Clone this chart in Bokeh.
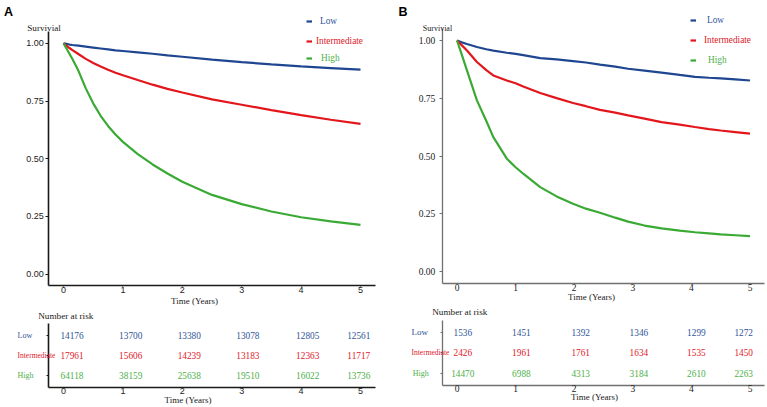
from bokeh.plotting import figure
from bokeh.models import Range1d, Label, Legend, LegendItem, FixedTicker, ColumnDataSource
from bokeh.layouts import row, column
from bokeh.embed import file_html
from bokeh.resources import INLINE
from bokeh.core.properties import value

# ---------------- data ----------------
groups = ["Low", "Intermediate", "High"]
years = [0, 1, 2, 3, 4, 5]
year_labels = ["0", "1", "2", "3", "4", "5"]
surv_ticks = [0.0, 0.25, 0.5, 0.75, 1.0]
surv_tick_labels = ["0.00", "0.25", "0.50", "0.75", "1.00"]

time_A = [0, 0.05, 0.1, 0.15, 0.25, 0.375, 0.5, 0.625, 0.75, 0.875, 1, 1.25, 1.5, 1.75, 2, 2.5, 3, 3.5, 4, 4.5, 5]
surv_A_low = [1, 0.998, 0.995, 0.993, 0.990, 0.986, 0.982, 0.978, 0.974, 0.970, 0.967, 0.961, 0.955, 0.948,
              0.942, 0.930, 0.919, 0.909, 0.900, 0.893, 0.886]
surv_A_int = [1, 0.990, 0.980, 0.971, 0.954, 0.933, 0.915, 0.900, 0.886, 0.873, 0.862, 0.841, 0.821, 0.803,
              0.787, 0.757, 0.734, 0.711, 0.689, 0.669, 0.651]
surv_A_high = [1, 0.978, 0.955, 0.932, 0.882, 0.805, 0.740, 0.686, 0.642, 0.605, 0.573, 0.520, 0.475, 0.436,
               0.400, 0.343, 0.303, 0.271, 0.246, 0.228, 0.213]

time_B = [0, 0.08, 0.17, 0.34, 0.5, 0.62, 0.85, 1.0, 1.13, 1.42, 1.7, 1.98, 2.2, 2.44, 2.7, 2.92,
          3.2, 3.49, 3.8, 4.06, 4.3, 4.5, 4.75, 5]
surv_B_low = [1, 0.992, 0.985, 0.972, 0.962, 0.956, 0.947, 0.942, 0.937, 0.924, 0.918, 0.911, 0.905, 0.896,
              0.887, 0.878, 0.870, 0.861, 0.851, 0.843, 0.839, 0.836, 0.832, 0.827]
surv_B_int = [1, 0.980, 0.957, 0.907, 0.872, 0.849, 0.827, 0.815, 0.801, 0.773, 0.751, 0.730, 0.716, 0.700,
              0.688, 0.676, 0.662, 0.647, 0.636, 0.626, 0.617, 0.611, 0.604, 0.597]
surv_B_high = [1, 0.940, 0.871, 0.741, 0.652, 0.582, 0.489, 0.452, 0.424, 0.366, 0.326, 0.294, 0.273, 0.255,
               0.234, 0.217, 0.200, 0.188, 0.178, 0.171, 0.166, 0.162, 0.158, 0.154]

risk_A_low = [14176, 13700, 13380, 13078, 12805, 12561]
risk_A_int = [17961, 15606, 14239, 13183, 12363, 11717]
risk_A_high = [64118, 38159, 25638, 19510, 16022, 13736]
risk_B_low = [1536, 1451, 1392, 1346, 1299, 1272]
risk_B_int = [2426, 1961, 1761, 1634, 1535, 1450]
risk_B_high = [14470, 6988, 4313, 3184, 2610, 2263]

# ---------------- styles ----------------
LINE_COL = {"Low": "#1F4690", "Intermediate": "#E3161C", "High": "#3AAA35"}
TEXT_COL = {"Low": "#2F5597", "Intermediate": "#E0202A", "High": "#4DAF4A"}
ROW_Y = {"Low": 3, "Intermediate": 2, "High": 1}
SERIF = "Liberation Serif"
SANS = "Liberation Sans"


class Canvas:
    """A figure whose frame fills its whole canvas; page box and a linear pixel mapping."""

    def __init__(self, left, top, width, height, x0_px, x_per, y0_px, y_per):
        self.left, self.top, self.w, self.h = left, top, width, height
        self.bottom = top + height
        xr = ((left - x0_px) / x_per, (left + width - x0_px) / x_per)
        yr = ((y0_px - self.bottom) / y_per, (y0_px - top) / y_per)
        p = figure(width=width, height=height, x_range=Range1d(*xr), y_range=Range1d(*yr),
                   output_backend="svg", toolbar_location=None,
                   min_border_left=0, min_border_right=0, min_border_top=0, min_border_bottom=0)
        p.outline_line_color = None
        p.xgrid.visible = False
        p.ygrid.visible = False
        p.background_fill_color = "white"
        p.border_fill_color = "white"
        self.p = p

    def label(self, px, py, text, size, color="#1a1a1a", font=SERIF, align="left", style="normal",
              ydata=None):
        kw = dict(x=px - self.left, x_units="screen", text=text, text_font=font, text_font_size=size,
                  text_color=color, text_align=align, text_baseline="middle", text_font_style=style)
        if ydata is None:
            kw.update(y=self.bottom - py, y_units="screen")
        else:
            kw.update(y=ydata, y_units="data")
        self.p.add_layout(Label(**kw))


def style_axes(p, xloc, yloc, xb, yb, tick_font, tick_size, line_col, line_w,
               xtick_out, xstand, ytick_out, ystand):
    for ax in (p.xaxis[0], p.yaxis[0]):
        ax.axis_line_color = line_col
        ax.axis_line_width = line_w
        ax.major_tick_line_color = line_col
        ax.minor_tick_line_color = None
        ax.major_tick_in = 0
        ax.major_label_text_font = tick_font
        ax.major_label_text_font_size = tick_size
        ax.major_label_text_color = "#222222"
    xa, ya = p.xaxis[0], p.yaxis[0]
    xa.fixed_location = yloc
    ya.fixed_location = xloc
    xa.bounds = xb
    ya.bounds = yb
    xa.major_tick_out = xtick_out
    xa.major_label_standoff = xstand
    ya.major_tick_out = ytick_out
    ya.major_label_standoff = ystand
    xa.ticker = FixedTicker(ticks=years)
    xa.major_label_overrides = {y: l for y, l in zip(years, year_labels)}


def surv_panel(c, letter, time, curves, xmax, tick_font, tick_size, line_col, line_w, ystand,
               letter_xy, surv_xy, surv_size, time_xy, legend_items):
    p = c.p
    style_axes(p, -0.25, -0.05, (-0.25, xmax), (-0.05, 1.05), tick_font, tick_size, line_col, line_w,
               1, 0, 3, ystand)
    p.yaxis[0].ticker = FixedTicker(ticks=surv_ticks)
    p.yaxis[0].major_label_overrides = {t: l for t, l in zip(surv_ticks, surv_tick_labels)}
    rends = {}
    for g in groups:
        rends[g] = p.line(time, curves[g], line_color=LINE_COL[g], line_width=2.2)
    c.label(letter_xy[0], letter_xy[1], letter, "12.5px", "#000000", SANS, "left", "bold")
    c.label(surv_xy[0], surv_xy[1], "Survivial", surv_size)
    c.label(time_xy[0], time_xy[1], "Time (Years)", "9px", align="center")
    for g, dash_x, cy, stand in legend_items:
        lg = Legend(items=[LegendItem(label=g, renderers=[rends[g]])],
                    location=(dash_x - c.left, c.bottom - (cy + 6)),
                    orientation="vertical", padding=0, margin=0, spacing=0,
                    glyph_width=6, glyph_height=12, label_height=12, label_standoff=stand,
                    label_text_font=SERIF, label_text_font_size="9.3px",
                    label_text_color=TEXT_COL[g], background_fill_alpha=0, border_line_alpha=0)
        p.add_layout(lg)


def risk_panel(c, risks, nudges, xmax, tick_font, tick_size, line_col, line_w,
               nar_xy, time_xy, row_x, row_sizes):
    p = c.p
    style_axes(p, -0.25, 0.4, (-0.25, xmax), (0.4, 3.6), tick_font, tick_size, line_col, line_w,
               0, 0, 2, 2)
    p.yaxis[0].ticker = FixedTicker(ticks=[1, 2, 3])
    p.yaxis[0].major_label_overrides = {1: "", 2: "", 3: ""}
    xs, ys, txt, cols, offs = [], [], [], [], []
    for g in groups:
        for yr, n, off in zip(years, risks[g], nudges):
            xs.append(yr)
            ys.append(ROW_Y[g])
            txt.append(str(n))
            cols.append(TEXT_COL[g])
            offs.append(off)
    src = ColumnDataSource(dict(x=xs, y=ys, txt=txt, tcol=cols, off=offs))
    p.text(x="x", y="y", text="txt", source=src, text_color="tcol", x_offset="off",
           text_font=value(SERIF), text_font_size=value("9.3px"),
           text_align="center", text_baseline="middle")
    c.label(nar_xy[0], nar_xy[1], "Number at risk", "9.2px")
    c.label(time_xy[0], time_xy[1], "Time (Years)", "9px", align="center")
    for g in groups:
        c.label(row_x[g], 0, g, row_sizes[g], TEXT_COL[g], SERIF, "left", ydata=ROW_Y[g])


curves_A = {"Low": surv_A_low, "Intermediate": surv_A_int, "High": surv_A_high}
curves_B = {"Low": surv_B_low, "Intermediate": surv_B_int, "High": surv_B_high}
risks_A = {"Low": risk_A_low, "Intermediate": risk_A_int, "High": risk_A_high}
risks_B = {"Low": risk_B_low, "Intermediate": risk_B_int, "High": risk_B_high}

# ---- panel A ----
a_top = Canvas(0, 0, 385, 306, 63, 59.4, 273.5, 230.6)
surv_panel(a_top, "A", time_A, curves_A, 5.25, SANS, "9px", "#1a1a1a", 1.6, 2,
           (3.5, 11), (26.7, 27.3), "9.2px", (194, 300),
           [("Low", 306, 20.7, 8), ("Intermediate", 306, 40.7, 4), ("High", 306, 57.7, 9)])
a_risk = Canvas(0, 306, 385, 100, 63, 59.4, 395, 20.0)
risk_panel(a_risk, risks_A, [8.5, 7.8, 7.0, 6.2, 6.6, -1.7], 5.25, SANS, "9px", "#1a1a1a", 1.6,
           (37.7, 315), (187.5, 399.3), {"Low": 17, "Intermediate": 17, "High": 17},
           {"Low": "8px", "Intermediate": "7.5px", "High": "8px"})

# ---- panel B ----
b_top = Canvas(385, 0, 381, 304, 456.5, 58.6, 271.3, 231.3)
surv_panel(b_top, "B", time_B, curves_B, 5.25, SERIF, "9.5px", "#707070", 1.3, 4,
           (398, 11), (422.3, 27.7), "8px", (591, 296.7),
           [("Low", 690, 20, 11), ("Intermediate", 690, 40, 8), ("High", 690, 60, 12)])
b_risk = Canvas(385, 304, 381, 102, 456.5, 58.6, 392.8, 20.3)
risk_panel(b_risk, risks_B, [5.8, 5.8, 6.5, 6.1, 5.0, -6.3], 5.25, SERIF, "9.5px", "#707070", 1.3,
           (431.7, 311), (594, 396.7), {"Low": 411, "Intermediate": 411, "High": 412.3},
           {"Low": "9px", "Intermediate": "7.5px", "High": "8px"})

layout = row(column(a_top.p, a_risk.p), column(b_top.p, b_risk.p))
open("out.html", "w").write(file_html(layout, INLINE))
